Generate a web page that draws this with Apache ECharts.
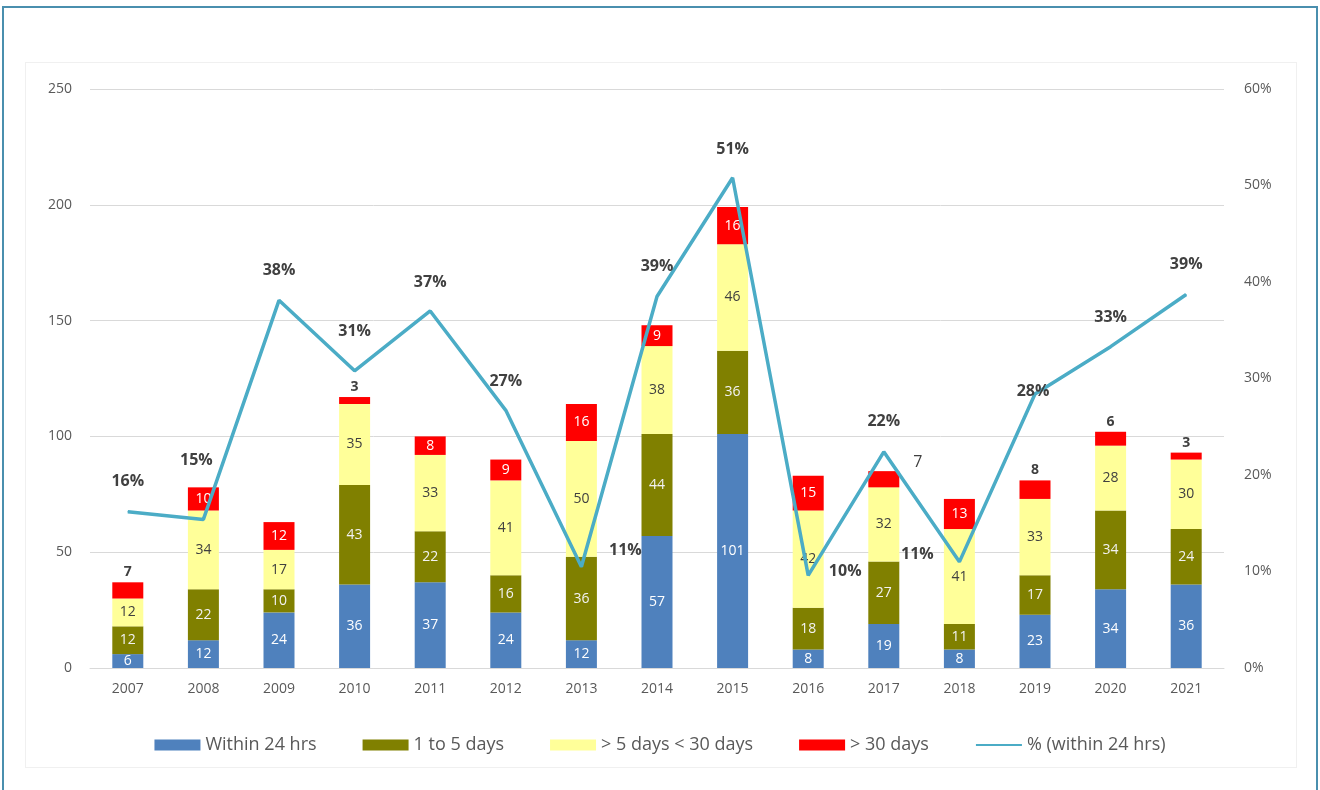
<!DOCTYPE html>
<html>
<head>
<meta charset="utf-8">
<script src="https://cdn.jsdelivr.net/npm/echarts@6/dist/echarts.min.js"></script>
<style>
  html, body { margin: 0; padding: 0; background: #fff; overflow: hidden; }
  #frame { position: absolute; left: 2px; top: 6px; width: 1316px; height: 800px; box-sizing: border-box; border: 2px solid #4a8fae; }
  #inner { position: absolute; left: 25px; top: 62px; width: 1272px; height: 706px; box-sizing: border-box; border: 1px solid #f0f0f0; }
  #chart { position: absolute; left: 0; top: 0; width: 1320px; height: 790px; }
</style>
</head>
<body>
<div id="frame"></div>
<div id="inner"></div>
<div id="chart"></div>
<script>
  const years = ["2007", "2008", "2009", "2010", "2011", "2012", "2013", "2014", "2015", "2016", "2017", "2018", "2019", "2020", "2021"];
  const within24 = [6, 12, 24, 36, 37, 24, 12, 57, 101, 8, 19, 8, 23, 34, 36];
  const oneToFive = [12, 22, 10, 43, 22, 16, 36, 44, 36, 18, 27, 11, 17, 34, 24];
  const fiveTo30 = [12, 34, 17, 35, 33, 41, 50, 38, 46, 42, 32, 41, 33, 28, 30];
  const over30 = [7, 10, 12, 3, 8, 9, 16, 9, 16, 15, 7, 13, 8, 6, 3];
  const pctWithin24 = [16.2, 15.4, 38.1, 30.8, 37.0, 26.7, 10.5, 38.5, 50.8, 9.6, 22.4, 11.0, 28.4, 33.3, 38.7];

  // where the % labels sit relative to each point (like the Excel layout)
  const pctLabelOffset = [
    [0, -30], [-7, -59], [0, -30], [0, -39], [0, -29], [0, -29], [44, -16], [0, -30],
    [0, -28], [37, -4], [0, -30], [-42, -7], [-2, -3], [0, -29], [0, -30]
  ];
  // small red segments get their label above the bar
  const redLabelAbove = [0, 3, 12, 13, 14];
  const redLabelRight = [10];

  const font = "Open Sans";
  const chart = echarts.init(document.getElementById("chart"));

  const barSeries = (name, data, color, labelColor) => ({
    name,
    type: "bar",
    stack: "total",
    barWidth: 31,
    data,
    itemStyle: { color },
    label: { show: true, position: "inside", color: labelColor, fontSize: 14, fontFamily: font },
  });

  const redData = over30.map((v, i) => {
    if (redLabelAbove.includes(i)) {
      return { value: v, label: { position: "top", distance: 3, color: "#404040", fontWeight: "bold" } };
    }
    if (redLabelRight.includes(i)) {
      return { value: v, label: { position: "right", distance: 14, offset: [0, -17], color: "#404040", fontSize: 16 } };
    }
    return v;
  });

  const option = {
    animation: false,
    backgroundColor: "transparent",
    textStyle: { fontFamily: font },
    grid: { left: 90, right: 96, top: 89, bottom: 122 },
    legend: {
      left: "center",
      top: 731,
      itemWidth: 46,
      itemHeight: 11,
      itemGap: 46,
      selectedMode: false,
      textStyle: { fontSize: 18, color: "#595959", fontFamily: font },
      data: [
        { name: "Within 24 hrs", icon: "rect" },
        { name: "1 to 5 days", icon: "rect" },
        { name: "> 5 days < 30 days", icon: "rect" },
        { name: "> 30 days", icon: "rect" },
        { name: "% (within 24 hrs)", itemStyle: { opacity: 0 } },
      ],
    },
    xAxis: {
      type: "category",
      data: years,
      axisTick: { show: false },
      axisLine: { lineStyle: { color: "#d9d9d9" } },
      axisLabel: { color: "#595959", fontSize: 14, margin: 14 },
    },
    yAxis: [
      {
        type: "value",
        min: 0,
        max: 250,
        interval: 50,
        axisLabel: { color: "#595959", fontSize: 14, margin: 18 },
        splitLine: { lineStyle: { color: "#d9d9d9" } },
      },
      {
        type: "value",
        min: 0,
        max: 60,
        interval: 10,
        splitLine: { show: false },
        axisLabel: { color: "#595959", fontSize: 14, margin: 20, formatter: "{value}%" },
      },
    ],
    series: [
      barSeries("Within 24 hrs", within24, "#4f81bd", "#ffffff"),
      barSeries("1 to 5 days", oneToFive, "#808000", "#f2f2f2"),
      barSeries("> 5 days < 30 days", fiveTo30, "#ffff99", "#404040"),
      barSeries("> 30 days", redData, "#ff0000", "#ffffff"),
      {
        name: "% (within 24 hrs)",
        type: "line",
        yAxisIndex: 1,
        symbol: "circle",
        symbolSize: 1,
        itemStyle: { color: "#4bacc6" },
        lineStyle: { color: "#4bacc6", width: 3.5 },
        z: 5,
        data: pctWithin24.map((v, i) => ({
          value: v,
          label: { offset: pctLabelOffset[i] },
        })),
        label: {
          show: true,
          position: "inside",
          color: "#404040",
          fontWeight: "bold",
          fontSize: 16,
          fontFamily: font,
          formatter: (p) => Math.round(p.value) + "%",
        },
      },
    ],
  };

  chart.setOption(option);
</script>
</body>
</html>
